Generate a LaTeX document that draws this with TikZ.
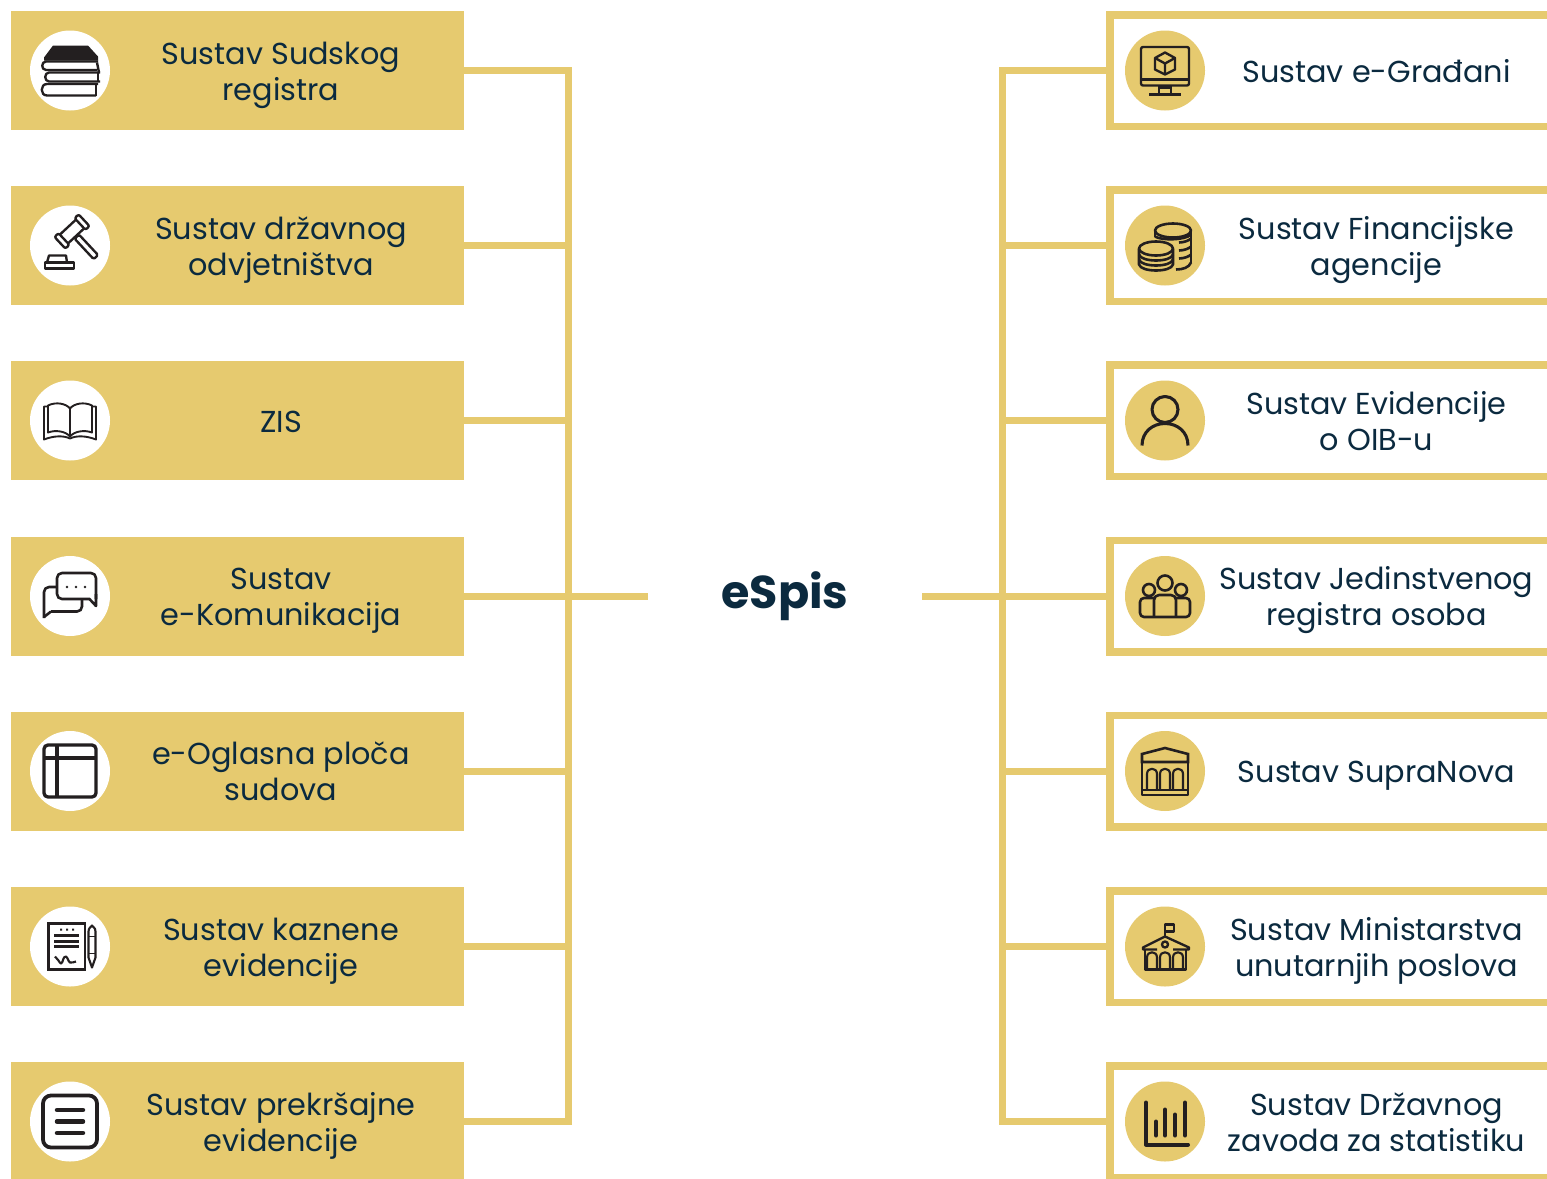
\documentclass[tikz,border=0pt]{standalone}
\usepackage{fontspec}
\setmainfont{Poppins}
\definecolor{gold}{HTML}{E6CA6F}
\definecolor{navy}{HTML}{0B2A3F}
\definecolor{ink}{HTML}{231F20}
\newcommand\nl{\strut\\\strut}
\tikzset{
  fillbox/.style={fill=gold,draw=none,outer sep=0pt,inner sep=0pt,minimum width=453pt,minimum height=119pt},
  framebox/.style={draw=gold,line width=7.5pt,fill=white,inner sep=0pt,minimum width=460pt,minimum height=111.5pt},
  conn/.style={draw=gold,line width=7pt,line join=miter},
  label/.style={text=navy,align=center,inner sep=0pt,yshift=-4.5pt,font=\fontsize{30.3}{36}\selectfont,execute at begin node=\strut,execute at end node=\strut},
  disc/.style={circle,inner sep=0pt,outer sep=0pt,minimum size=80pt,fill=#1},
  ik/.style={draw=ink,line width=1.18*#1,line cap=butt,line join=round},
  ik/.default=2pt,
  title/.style={text=navy,inner sep=0pt,outer sep=0pt,minimum width=274pt,minimum height=60pt,font=\fontsize{46}{52}\selectfont\bfseries}
}
% --- icons, drawn round the disc centre, in reference pixels, y downwards
\newcommand\icoBooks{%
  \fill[ink] (-17,-25)--(18,-25)--(28,-14)--(28,-10)--(-26,-10)--(-26,-13)--cycle;
  \draw[ik] (28,-9)--(-24,-9) .. controls (-29,-9) and (-29,-0.5) .. (-24,-0.5)--(27,-0.5);
  \draw[ik] (30,2)--(-21,2) .. controls (-26,2) and (-26,11) .. (-21,11)--(30,11);
  \draw[ik] (28,13.5)--(-23,13.5) .. controls (-30,13.5) and (-30,25) .. (-23,25)--(26,25);
  \draw[ik] (27,-8)--(29,2); \draw[ik] (28,2)--(28,11); \draw[ik] (26,13)--(26,25);
}
\newcommand\icoGavel{%
  \begin{scope}[shift={(2,-14)},rotate=-47]
    \draw[ik,rounded corners=1.5pt] (7,-3)--(35,-3)--(35,3)--(7,3)--cycle;
    \draw[ik] (-6,-11)--(-6,11); \draw[ik] (6,-11)--(6,11);
    \draw[ik,rounded corners=2pt] (-8,-11)--(8,-11)--(8,-16.5)--(-8,-16.5)--cycle;
    \draw[ik,rounded corners=2pt] (-8,11)--(8,11)--(8,16.5)--(-8,16.5)--cycle;
  \end{scope}
  \draw[ik,line join=round] (-21,10)--(-4,10)--(-3,17)--(-23,17)--cycle;
  \draw[ik] (-25,17)--(4,17)--(4,23)--(-25,23)--cycle;
}
\newcommand\icoBook{%
  \draw[ik=1.6pt] (0,-12) .. controls (-4,-17) and (-14,-19) .. (-22,-15)--(-22,12) .. controls (-14,9) and (-4,11) .. (0,16);
  \draw[ik=1.6pt] (0,-12) .. controls (4,-17) and (14,-19) .. (22,-15)--(22,12) .. controls (14,9) and (4,11) .. (0,16)--cycle;
  \draw[ik=1.6pt] (-22,-14)--(-26,-14)--(-26,19) .. controls (-16,15) and (-6,15) .. (0,18) .. controls (6,15) and (16,15) .. (26,19)--(26,-14)--(22,-14);
}
\newcommand\icoChat{%
  \draw[ik=2.2pt,rounded corners=5pt] (-13,-9)--(-26,-9)--(-26,22);
  \draw[ik=2.2pt] (-26,21)--(-19,15.5);
  \draw[ik=2.2pt,rounded corners=5pt] (-19,15.5)--(12,15.5)--(12,4);
  \draw[ik=2.2pt,rounded corners=5pt] (20,3)--(-13,3)--(-13,-23)--(26,-23)--(26,3);
  \draw[ik=2.2pt] (26,-2)--(26,10)--(19.5,3);
  \fill[ink] (-3,-9) circle[radius=1.3pt] (6,-9) circle[radius=1.3pt] (15,-9) circle[radius=1.3pt];
}
\newcommand\icoWindow{%
  \draw[ik=2.8pt,rounded corners=4pt] (-26,-26) rectangle (26,26);
  \draw[ik=2.8pt] (-26,-13)--(26,-13) (-13,-26)--(-13,26);
}
\newcommand\icoDoc{%
  \draw[ik=2pt,line join=miter] (-21.5,-23) rectangle (15,23);
  \draw[ik=1.8pt] (-16,-11)--(9,-11) (-16,-5)--(9,-5) (-16,0)--(9,0);
  \fill[ink] (-10,-18) rectangle (-8,-16) (-4,-18) rectangle (-2,-16) (2,-18) rectangle (4,-16);
  \draw[ik=1.8pt] (-15,10) .. controls (-12,12) and (-11,16) .. (-9,17) .. controls (-7,17) and (-7,9) .. (-4,10) .. controls (-2,11) and (-2,15) .. (0,16) .. controls (2,17) and (4,15) .. (6,15);
  \draw[ik=1.8pt] (18.5,-15) .. controls (18.5,-19) and (21,-19) .. (22,-21) .. controls (23,-19) and (25.5,-19) .. (25.5,-15)--(25.5,11)--(22,21)--(18.5,11)--cycle;
  \draw[ik=1.6pt] (18.5,-10)--(25.5,-10) (18.5,7)--(25.5,7);
}
\newcommand\icoList{%
  \draw[ik=3.2pt,rounded corners=8pt] (-27,-26) rectangle (27,26);
  \draw[ik=3.8pt,line cap=round] (-13,-11.5)--(13,-11.5) (-13,0)--(13,0) (-13,11.5)--(13,11.5);
}
\newcommand\icoMonitor{%
  \draw[ik=2pt,rounded corners=2pt] (-24,-23.5) rectangle (24,15);
  \draw[ik=2pt] (-24,9)--(24,9) (-6,15)--(-6,24) (6,15)--(6,24) (-16,24)--(16,24) (-6,17)--(6,17);
  \draw[ik=2pt] (0,-18)--(10,-12.5)--(10,-1)--(0,4)--(-10,-1)--(-10,-12.5)--cycle;
  \draw[ik=2pt] (-10,-12.5)--(0,-7)--(10,-12.5) (0,-7)--(0,4);
}
\newcommand\icoCoins{%
  \draw[ik=2.2pt] (8,-15) ellipse[x radius=18pt,y radius=7pt];
  \draw[ik=2.2pt] (-10,-15)--(-10,-9) (26,-15)--(26,17);
  \draw[ik=2.2pt] (-10,-9) .. controls (-4,-5) and (20,-5) .. (26,-11);
  \foreach \yy in {-3,5,13}{\draw[ik=2.2pt] (14,\yy) .. controls (19,\yy) and (24,\yy-2) .. (26,\yy-4);}
  \draw[ik=2.2pt] (11,24) .. controls (18,24) and (24,22) .. (26,17);
  \draw[ik=2.2pt] (-9,3) ellipse[x radius=17pt,y radius=7pt];
  \draw[ik=2.2pt] (-26,3)--(-26,19) .. controls (-24,27) and (6,27) .. (8,19)--(8,3);
  \draw[ik=2.2pt] (-26,9) .. controls (-24,17) and (6,17) .. (8,9);
  \draw[ik=2.2pt] (-26,14) .. controls (-24,22) and (6,22) .. (8,14);
}
\newcommand\icoPerson{%
  \draw[ik=2.6pt] (0,-11) circle[radius=13pt];
  \draw[ik=2.6pt] (-23,25) .. controls (-23,11) and (-12,3) .. (0,3) .. controls (12,3) and (23,11) .. (23,25);
}
\newcommand\icoGroup{%
  \draw[ik=2.2pt] (0,-13) circle[radius=7.5pt] (-16,-6) circle[radius=6pt] (16,-6) circle[radius=6pt];
  \draw[ik=2.2pt,rounded corners=5pt] (-11,21)--(-11,-1)--(11,-1)--(11,21);
  \draw[ik=2.2pt,rounded corners=4pt] (-11,2)--(-25,2)--(-25,21)--(25,21)--(25,2)--(11,2);
}
\newcommand\archs[3]{%
  \foreach \cx in {-13,0,13}{\draw[ik=1.8pt] (\cx-5+#3,#2)--(\cx-5+#3,#1+5) .. controls (\cx-5+#3,#1-2) and (\cx+5+#3,#1-2) .. (\cx+5+#3,#1+5)--(\cx+5+#3,#2);}
}
\newcommand\icoBank{%
  \draw[ik=2.2pt,line join=miter] (-23,-9)--(-23,-17)--(0,-23)--(23,-17)--(23,-9)--cycle;
  \draw[ik=2.2pt] (-23,-9)--(-23,24)--(23,24)--(23,-9) (-23,19)--(23,19);
  \archs{-2}{19}{0}
}
\newcommand\icoSchool{%
  \draw[ik=2pt] (0,-11)--(0,-22)--(9,-22)--(9,-15)--(0,-15);
  \draw[ik=2pt] (-8,3)--(-22,3)--(-22,1)--(0,-10)--(24,1)--(24,3)--(8,3);
  \draw[ik=2pt] (0,-2) circle[radius=3pt];
  \draw[ik=2pt] (-20,3)--(-20,23)--(21,23)--(21,3);
  \archs{6}{23}{0}
}
\newcommand\icoChart{%
  \draw[ik=3.4pt,line cap=round] (-19,-19)--(-19,23)--(23,23);
  \draw[ik=3.4pt,line cap=round] (-9,0)--(-9,14) (0,-12)--(0,14) (10,-7)--(10,14) (20,-19)--(20,14);
}
% --- one row of each column: name, y, text, icon
\newcommand\rowL[4]{%
  \node[fillbox] (L#1) at (237.5,#2) {};
  \node[disc=white] (Li#1) at (70,#2) {};
  \node[label] (Lt#1) at (281,#2) {#3};
  \begin{scope}[shift={(Li#1.center)}] #4 \end{scope}
}
\newcommand\rowR[4]{%
  \node[framebox] (R#1) at (1340,#2) {};
  \node[disc=gold] (Ri#1) at (1165,#2) {};
  \node[label] (Rt#1) at (1376.5,#2) {#3};
  \begin{scope}[shift={(Ri#1.center)}] #4 \end{scope}
}
\begin{document}
\begin{tikzpicture}[x=1pt,y=-1pt]
\useasboundingbox (0,0) rectangle (1547,1178);
\clip (0,0) rectangle (1547,1178);
\coordinate (LS) at (568,596);
\coordinate (RS) at (1002,596);
\rowL{1}{70.5}{Sustav Sudskog\nl registra}{\icoBooks}
\rowL{2}{245.5}{Sustav državnog\nl odvjetništva}{\icoGavel}
\rowL{3}{420.5}{ZIS}{\icoBook}
\rowL{4}{596}{Sustav\nl e-Komunikacija}{\icoChat}
\rowL{5}{771}{e-Oglasna ploča\nl sudova}{\icoWindow}
\rowL{6}{946.5}{Sustav kaznene\nl evidencije}{\icoDoc}
\rowL{7}{1121.5}{Sustav prekršajne\nl evidencije}{\icoList}
\rowR{1}{70.5}{Sustav e-Građani}{\icoMonitor}
\rowR{2}{245.5}{Sustav Financijske\nl agencije}{\icoCoins}
\rowR{3}{420.5}{Sustav Evidencije\nl o OIB-u}{\icoPerson}
\rowR{4}{596}{Sustav Jedinstvenog\nl registra osoba}{\icoGroup}
\rowR{5}{771}{Sustav SupraNova}{\icoBank}
\rowR{6}{946.5}{Sustav Ministarstva\nl unutarnjih poslova}{\icoSchool}
\rowR{7}{1121.5}{Sustav Državnog\nl zavoda za statistiku}{\icoChart}
\node[title] (E) at (785,596) {\raisebox{3pt}{eSpis}};
\foreach \i in {1,2,3,5,6,7}{
  \draw[conn] (L\i.east) -| (LS);
  \draw[conn] (R\i.west) -| (RS);
}
\draw[conn] (L4.east) -- (LS);
\draw[conn] (LS) -- (E.west);
\draw[conn] (E.east) -- (RS);
\draw[conn] (RS) -- (R4.west);
\end{tikzpicture}
\end{document}
